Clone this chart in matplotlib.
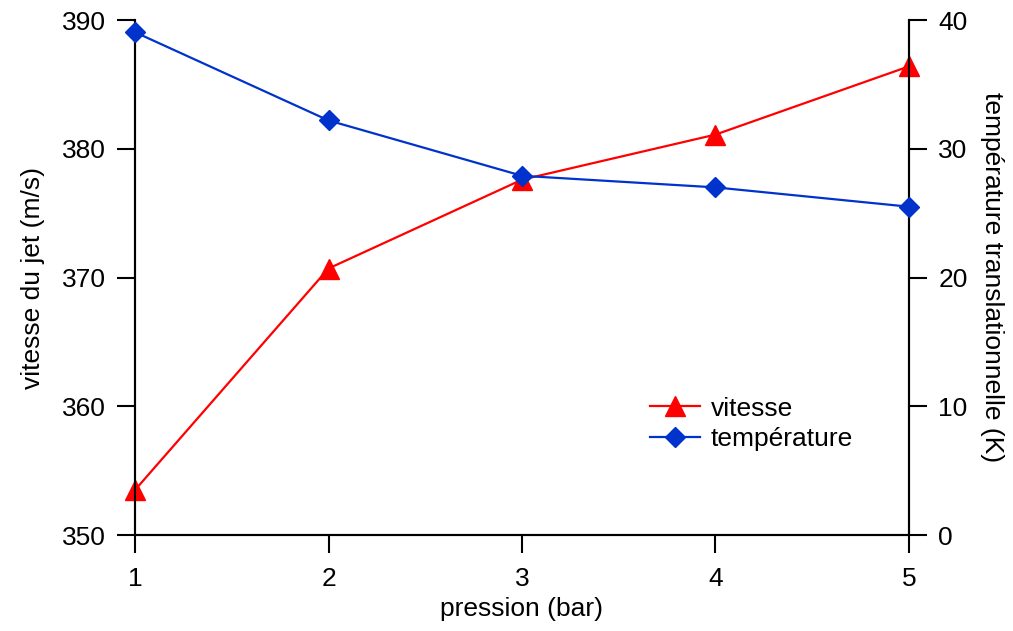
import matplotlib.pyplot as plt

plt.rcParams['font.family'] = ['Liberation Sans', 'DejaVu Sans']

pression = [1, 2, 3, 4, 5]
vitesse = [353.5, 370.7, 377.6, 381.1, 386.4]
temperature = [39.05, 32.2, 27.9, 27.0, 25.5]

fs = 19
fig = plt.figure(figsize=(10.13, 6.31), dpi=100)
ax = fig.add_axes([0.1333, 0.1521, 0.764, 0.8162])
ax2 = ax.twinx()

l1, = ax.plot(pression, vitesse, color='#ff0000', lw=1.6, marker='^',
              markersize=14, clip_on=False, zorder=5, label='vitesse')
l2, = ax2.plot(pression, temperature, color='#0033cc', lw=1.6, marker='D',
               markersize=10, clip_on=False, zorder=5, label='température')

ax.set_xlim(1, 5)
ax.set_ylim(350, 390)
ax2.set_ylim(0, 40)
ax.set_xticks(pression)
ax.set_yticks([350, 360, 370, 380, 390])
ax2.set_yticks([0, 10, 20, 30, 40])

for a in (ax, ax2):
    a.spines['top'].set_visible(False)
    for s in a.spines.values():
        s.set_linewidth(1.5)
    a.tick_params(direction='out', length=13, width=1.5, labelsize=fs, pad=8)
ax.tick_params(axis='x', pad=10)

ax.set_xlabel('pression (bar)', fontsize=fs, labelpad=4)
ax.set_ylabel('vitesse du jet (m/s)', fontsize=fs, labelpad=12)
ax2.set_ylabel('température translationnelle (K)', fontsize=fs,
               rotation=270, labelpad=26)

ax2.legend([l1, l2], ['vitesse', 'température'], frameon=False, fontsize=fs,
           loc='center left', bbox_to_anchor=(0.6417, 0.328),
           bbox_transform=fig.transFigure, borderaxespad=0, borderpad=0,
           handlelength=1.9, handletextpad=0.4, labelspacing=0.25)

fig.savefig('out.png', dpi=100)
